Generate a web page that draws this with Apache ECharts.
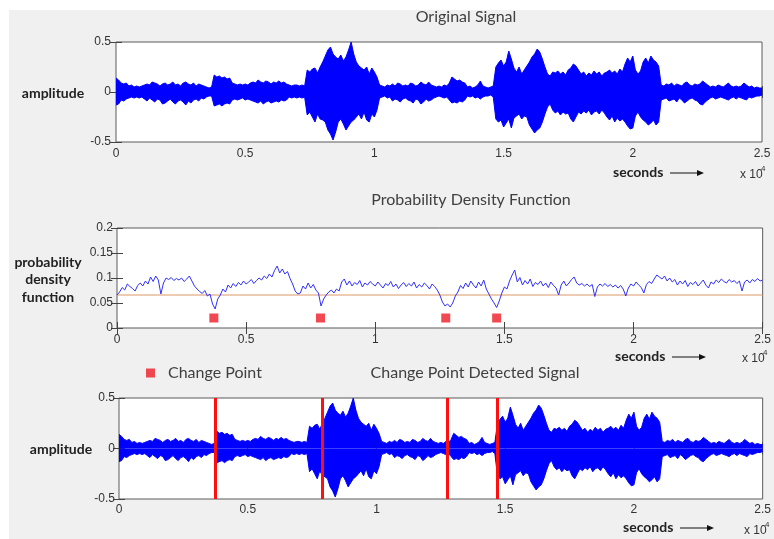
<!DOCTYPE html>
<html><head><meta charset="utf-8">
<script src="https://cdn.jsdelivr.net/npm/echarts@6/dist/echarts.min.js"></script>
<style>html,body{margin:0;padding:0;background:#fff}#c{width:774px;height:539px}</style>
</head><body><div id="c"></div>
<script>
// ---- data ----
const sampleStep = 100; // samples between envelope readings
const envUpper = [
0.14,0.12,0.09,0.08,0.09,0.06,0.07,0.05,0.06,0.05,
0.06,0.07,0.08,0.07,0.10,0.09,0.08,0.06,0.08,0.09,
0.07,0.08,0.10,0.07,0.08,0.06,0.09,0.10,0.08,0.07,
0.09,0.06,0.08,0.07,0.06,0.05,0.04,0.05,0.17,0.15,
0.16,0.14,0.15,0.13,0.14,0.09,0.08,0.07,0.08,0.07,
0.08,0.07,0.09,0.10,0.09,0.12,0.10,0.09,0.11,0.10,
0.08,0.10,0.09,0.11,0.09,0.10,0.08,0.07,0.06,0.07,
0.07,0.06,0.07,0.06,0.22,0.20,0.23,0.24,0.19,0.25,
0.30,0.36,0.42,0.45,0.38,0.35,0.33,0.37,0.31,0.35,
0.42,0.50,0.38,0.30,0.26,0.24,0.22,0.25,0.18,0.24,
0.20,0.15,0.07,0.06,0.05,0.07,0.06,0.08,0.06,0.09,
0.08,0.06,0.07,0.06,0.09,0.08,0.06,0.07,0.10,0.08,
0.07,0.10,0.07,0.06,0.05,0.06,0.05,0.07,0.06,0.09,
0.15,0.13,0.11,0.12,0.10,0.09,0.05,0.06,0.04,0.05,
0.07,0.11,0.06,0.05,0.04,0.05,0.06,0.25,0.29,0.32,
0.26,0.30,0.41,0.33,0.24,0.20,0.25,0.18,0.22,0.26,
0.30,0.35,0.38,0.43,0.40,0.33,0.25,0.18,0.16,0.20,
0.19,0.21,0.18,0.20,0.17,0.22,0.24,0.28,0.26,0.22,
0.18,0.20,0.16,0.19,0.17,0.21,0.18,0.20,0.16,0.19,
0.20,0.22,0.19,0.21,0.18,0.23,0.20,0.28,0.34,0.30,
0.36,0.22,0.18,0.21,0.30,0.34,0.29,0.36,0.32,0.30,
0.26,0.07,0.06,0.08,0.07,0.09,0.06,0.08,0.07,0.06,
0.09,0.10,0.07,0.06,0.08,0.07,0.08,0.11,0.09,0.07,
0.05,0.06,0.05,0.07,0.06,0.05,0.07,0.09,0.06,0.05,
0.06,0.05,0.06,0.09,0.07,0.05,0.06,0.04,0.05,0.04,
0.04];
const envLower = [
-0.13,-0.12,-0.08,-0.09,-0.07,-0.06,-0.05,-0.06,-0.05,-0.06,
-0.05,-0.07,-0.09,-0.06,-0.08,-0.10,-0.07,-0.08,-0.12,-0.11,
-0.09,-0.07,-0.10,-0.12,-0.09,-0.08,-0.10,-0.13,-0.09,-0.11,
-0.08,-0.07,-0.09,-0.06,-0.07,-0.05,-0.04,-0.04,-0.14,-0.13,
-0.12,-0.14,-0.12,-0.11,-0.12,-0.08,-0.07,-0.08,-0.07,-0.06,
-0.08,-0.07,-0.08,-0.09,-0.10,-0.11,-0.09,-0.12,-0.10,-0.09,
-0.11,-0.10,-0.09,-0.10,-0.08,-0.09,-0.08,-0.05,-0.06,-0.05,
-0.06,-0.05,-0.06,-0.05,-0.23,-0.20,-0.25,-0.30,-0.22,-0.27,
-0.28,-0.30,-0.38,-0.42,-0.48,-0.40,-0.30,-0.27,-0.32,-0.38,
-0.34,-0.30,-0.28,-0.25,-0.22,-0.27,-0.20,-0.28,-0.30,-0.22,
-0.25,-0.18,-0.06,-0.05,-0.04,-0.06,-0.05,-0.09,-0.07,-0.08,
-0.10,-0.07,-0.06,-0.08,-0.09,-0.11,-0.07,-0.08,-0.12,-0.10,
-0.07,-0.09,-0.08,-0.06,-0.05,-0.04,-0.05,-0.06,-0.05,-0.08,
-0.11,-0.10,-0.11,-0.09,-0.10,-0.08,-0.04,-0.05,-0.04,-0.06,
-0.05,-0.07,-0.05,-0.04,-0.04,-0.03,-0.05,-0.27,-0.30,-0.28,
-0.35,-0.31,-0.27,-0.36,-0.26,-0.24,-0.22,-0.27,-0.24,-0.25,
-0.33,-0.37,-0.41,-0.38,-0.36,-0.30,-0.22,-0.15,-0.12,-0.18,
-0.21,-0.19,-0.23,-0.20,-0.22,-0.21,-0.27,-0.30,-0.25,-0.20,
-0.22,-0.19,-0.21,-0.18,-0.23,-0.20,-0.19,-0.22,-0.18,-0.21,
-0.25,-0.28,-0.24,-0.30,-0.26,-0.29,-0.27,-0.30,-0.34,-0.37,
-0.36,-0.24,-0.20,-0.25,-0.28,-0.30,-0.33,-0.31,-0.28,-0.33,
-0.30,-0.08,-0.07,-0.06,-0.09,-0.08,-0.07,-0.10,-0.06,-0.08,
-0.11,-0.09,-0.07,-0.06,-0.08,-0.09,-0.12,-0.13,-0.10,-0.08,
-0.06,-0.05,-0.07,-0.06,-0.05,-0.06,-0.07,-0.08,-0.06,-0.05,
-0.07,-0.05,-0.06,-0.07,-0.08,-0.05,-0.06,-0.05,-0.04,-0.04,
-0.03];
const pdfValues = [
0.066,0.072,0.081,0.076,0.088,0.083,0.079,0.074,0.085,0.090,
0.084,0.094,0.088,0.102,0.093,0.104,0.096,0.068,0.090,0.100,
0.097,0.101,0.095,0.099,0.096,0.100,0.093,0.098,0.104,0.094,
0.084,0.078,0.073,0.069,0.075,0.064,0.068,0.048,0.038,0.058,
0.066,0.078,0.072,0.086,0.080,0.089,0.083,0.091,0.086,0.094,
0.088,0.092,0.097,0.089,0.095,0.100,0.096,0.104,0.099,0.108,
0.102,0.115,0.124,0.110,0.118,0.108,0.113,0.099,0.088,0.074,
0.068,0.070,0.084,0.078,0.090,0.080,0.087,0.076,0.070,0.044,
0.058,0.066,0.072,0.076,0.070,0.078,0.074,0.092,0.098,0.086,
0.094,0.084,0.091,0.087,0.095,0.082,0.090,0.086,0.093,0.088,
0.084,0.092,0.086,0.080,0.089,0.085,0.093,0.082,0.088,0.079,
0.086,0.091,0.083,0.089,0.084,0.092,0.080,0.087,0.082,0.090,
0.085,0.078,0.088,0.083,0.076,0.066,0.052,0.044,0.048,0.042,
0.050,0.064,0.072,0.085,0.079,0.090,0.082,0.094,0.086,0.080,
0.092,0.084,0.096,0.078,0.068,0.058,0.050,0.041,0.054,0.070,
0.082,0.078,0.094,0.106,0.116,0.092,0.101,0.086,0.095,0.088,
0.098,0.083,0.091,0.087,0.094,0.084,0.090,0.081,0.092,0.085,
0.080,0.066,0.086,0.094,0.084,0.090,0.097,0.102,0.090,0.086,
0.089,0.084,0.088,0.083,0.087,0.063,0.082,0.088,0.084,0.089,
0.083,0.087,0.082,0.086,0.080,0.085,0.078,0.064,0.080,0.088,
0.084,0.092,0.086,0.081,0.070,0.087,0.093,0.089,0.098,0.106,
0.102,0.098,0.104,0.094,0.100,0.092,0.097,0.086,0.094,0.088,
0.095,0.083,0.091,0.087,0.093,0.084,0.090,0.096,0.086,0.080,
0.092,0.088,0.096,0.091,0.098,0.093,0.090,0.097,0.092,0.095,
0.089,0.094,0.074,0.092,0.096,0.090,0.097,0.093,0.099,0.094,
0.096];
const pdfThreshold = 0.066;
const timeRange = [0, 25000];
const changePoints = [3750, 7880, 12730, 14700];
const changeMarkerLevel = 0.02;
const xTickLabels = ['0','0.5','1','1.5','2','2.5'];
const ampTickLabels = ['-0.5','0','0.5'];
const pdfTickLabels = ['0','0.05','0.1','0.15','0.2'];

// ---- build ----
const upPts = envUpper.map((v,i)=>[i*sampleStep, v]);
const loPts = envLower.map((v,i)=>[i*sampleStep, v]);
const pdfPts = pdfValues.map((v,i)=>[i*sampleStep, v]);
const cpPts = changePoints.map(x=>[x, changeMarkerLevel]);
const thrPts = timeRange.map(x=>[x, pdfThreshold]);

const LBL = {fontFamily:'Liberation Sans', fontSize:12, color:'#333'};
const grids = [
  {left:116, top:42, width:646, height:100},
  {left:117, top:228, width:648, height:100},
  {left:119, top:398, width:647, height:101}
].map(g=>Object.assign({show:true, backgroundColor:'#fff', borderColor:'#5a5a5a', borderWidth:1}, g));

const xAxes = [], yAxes = [];
const xMargins = [6,6,5], yMargins = [5,4,4];
grids.forEach((g,gi)=>{
  const base = {type:'value', min:timeRange[0], max:timeRange[1], interval:5000, gridIndex:gi,
    axisLine:{show:false}, splitLine:{show:false},
    axisTick:{show:true, inside:true, length:6, lineStyle:{color:'#444'}}};
  xAxes.push(Object.assign({}, base, {position:'bottom',
    axisLabel:Object.assign({margin:xMargins[gi], formatter:(v)=>xTickLabels[Math.round(v/5000)]}, LBL)}));
  xAxes.push(Object.assign({}, base, {position:'top', axisLabel:{show:false}}));
  const isPdf = gi===1;
  const yb = {type:'value', gridIndex:gi, min: isPdf?0:-0.5, max: isPdf?0.2:0.5, interval: isPdf?0.05:0.5,
    axisLine:{show:false}, splitLine:{show:false},
    axisTick:{show:true, inside:true, length:6, lineStyle:{color:'#444'}}};
  const labels = isPdf ? pdfTickLabels : ampTickLabels;
  const lmin = isPdf?0:-0.5, lint = isPdf?0.05:0.5;
  yAxes.push(Object.assign({}, yb, {position:'left',
    axisLabel:Object.assign({margin:yMargins[gi], formatter:(v)=>labels[Math.round((v-lmin)/lint)]}, LBL)}));
  yAxes.push(Object.assign({}, yb, {position:'right', axisLabel:{show:false}}));
});

const BLUE = '#0000ff';
function envSeries(gi, extra){
  const common = {type:'line', xAxisIndex:2*gi, yAxisIndex:2*gi, symbol:'none', silent:true,
    lineStyle:{color:BLUE, width:1}, areaStyle:{color:BLUE, opacity:1, origin:0}, z:2};
  const s1 = Object.assign({}, common, {data:upPts});
  const s2 = Object.assign({}, common, {data:loPts});
  if (extra) Object.assign(s2, extra);
  return [s1, s2];
}

const series = [
  ...envSeries(0),
  {type:'line', xAxisIndex:2, yAxisIndex:2, data:thrPts, symbol:'none', silent:true, z:2,
   lineStyle:{color:'#dc9868', width:1}},
  {type:'line', xAxisIndex:2, yAxisIndex:2, data:pdfPts, symbol:'none', silent:true, z:3,
   lineStyle:{color:'#3030ff', width:1}},
  {type:'scatter', name:'Change Point', xAxisIndex:2, yAxisIndex:2, data:cpPts, symbol:'rect', symbolSize:9,
   itemStyle:{color:'#ee1c25'}, silent:true},
  ...envSeries(2, {markLine:{silent:true, symbol:['none','none'], label:{show:false}, z:10,
     lineStyle:{color:'#ff1010', width:3, type:'solid', opacity:1}, emphasis:{disabled:true},
     data:changePoints.map(x=>({xAxis:x}))}})
];

const TITLE = {font:'16px Lato', fill:'#404040', align:'center', verticalAlign:'middle'};
const BOLD = {font:'bold 14px Lato', fill:'#222', align:'center', verticalAlign:'middle'};
function txt(x,y,text,style){return {type:'text', x, y, silent:true, style:Object.assign({text}, style)};}
function secondsGroup(sx, y, ax0, ax1, ex, ey){
  return [
    txt(sx, y, 'seconds', Object.assign({}, BOLD, {align:'left'})),
    {type:'line', silent:true, shape:{x1:ax0, y1:y+1, x2:ax1-5, y2:y+1}, style:{stroke:'#111', lineWidth:1}},
    {type:'polygon', silent:true, shape:{points:[[ax1-7,y-2],[ax1,y+1],[ax1-7,y+4]]}, style:{fill:'#111'}},
    txt(ex, ey, 'x 10', {font:'12px Liberation Sans', fill:'#333', align:'left', verticalAlign:'middle'}),
    txt(ex+21, ey-6, '4', {font:'8px Liberation Sans', fill:'#333', align:'left', verticalAlign:'middle'})
  ];
}

const graphic = [
  {type:'rect', silent:true, shape:{x:0,y:0,width:774,height:10}, style:{fill:'#fff'}},
  {type:'rect', silent:true, shape:{x:0,y:0,width:9,height:539}, style:{fill:'#fff'}},
  txt(466, 17, 'Original Signal', TITLE),
  txt(471, 200, 'Probability Density Function', TITLE),
  txt(475, 373, 'Change Point Detected Signal', TITLE),
  txt(53, 93, 'amplitude', BOLD),
  txt(48, 262, 'probability', BOLD),
  txt(48, 279, 'density', BOLD),
  txt(48, 297, 'function', BOLD),
  txt(61, 449, 'amplitude', BOLD),
  ...secondsGroup(613, 172, 670, 704, 740, 175),
  ...secondsGroup(615, 356, 672, 706, 742, 359),
  ...secondsGroup(623, 527, 680, 714, 744, 531)
];

const chart = echarts.init(document.getElementById('c'), null, {renderer:'canvas'});
chart.setOption({
  backgroundColor:'#f0f0f0',
  animation:false,
  grid:grids, xAxis:xAxes, yAxis:yAxes, series,
  legend:{data:['Change Point'], left:141, top:360, icon:'rect', itemWidth:9, itemHeight:9,
    selectedMode:false, textStyle:{fontFamily:'Lato', fontSize:16, color:'#404040', padding:[0,0,0,8]}},
  graphic
});
</script></body></html>
